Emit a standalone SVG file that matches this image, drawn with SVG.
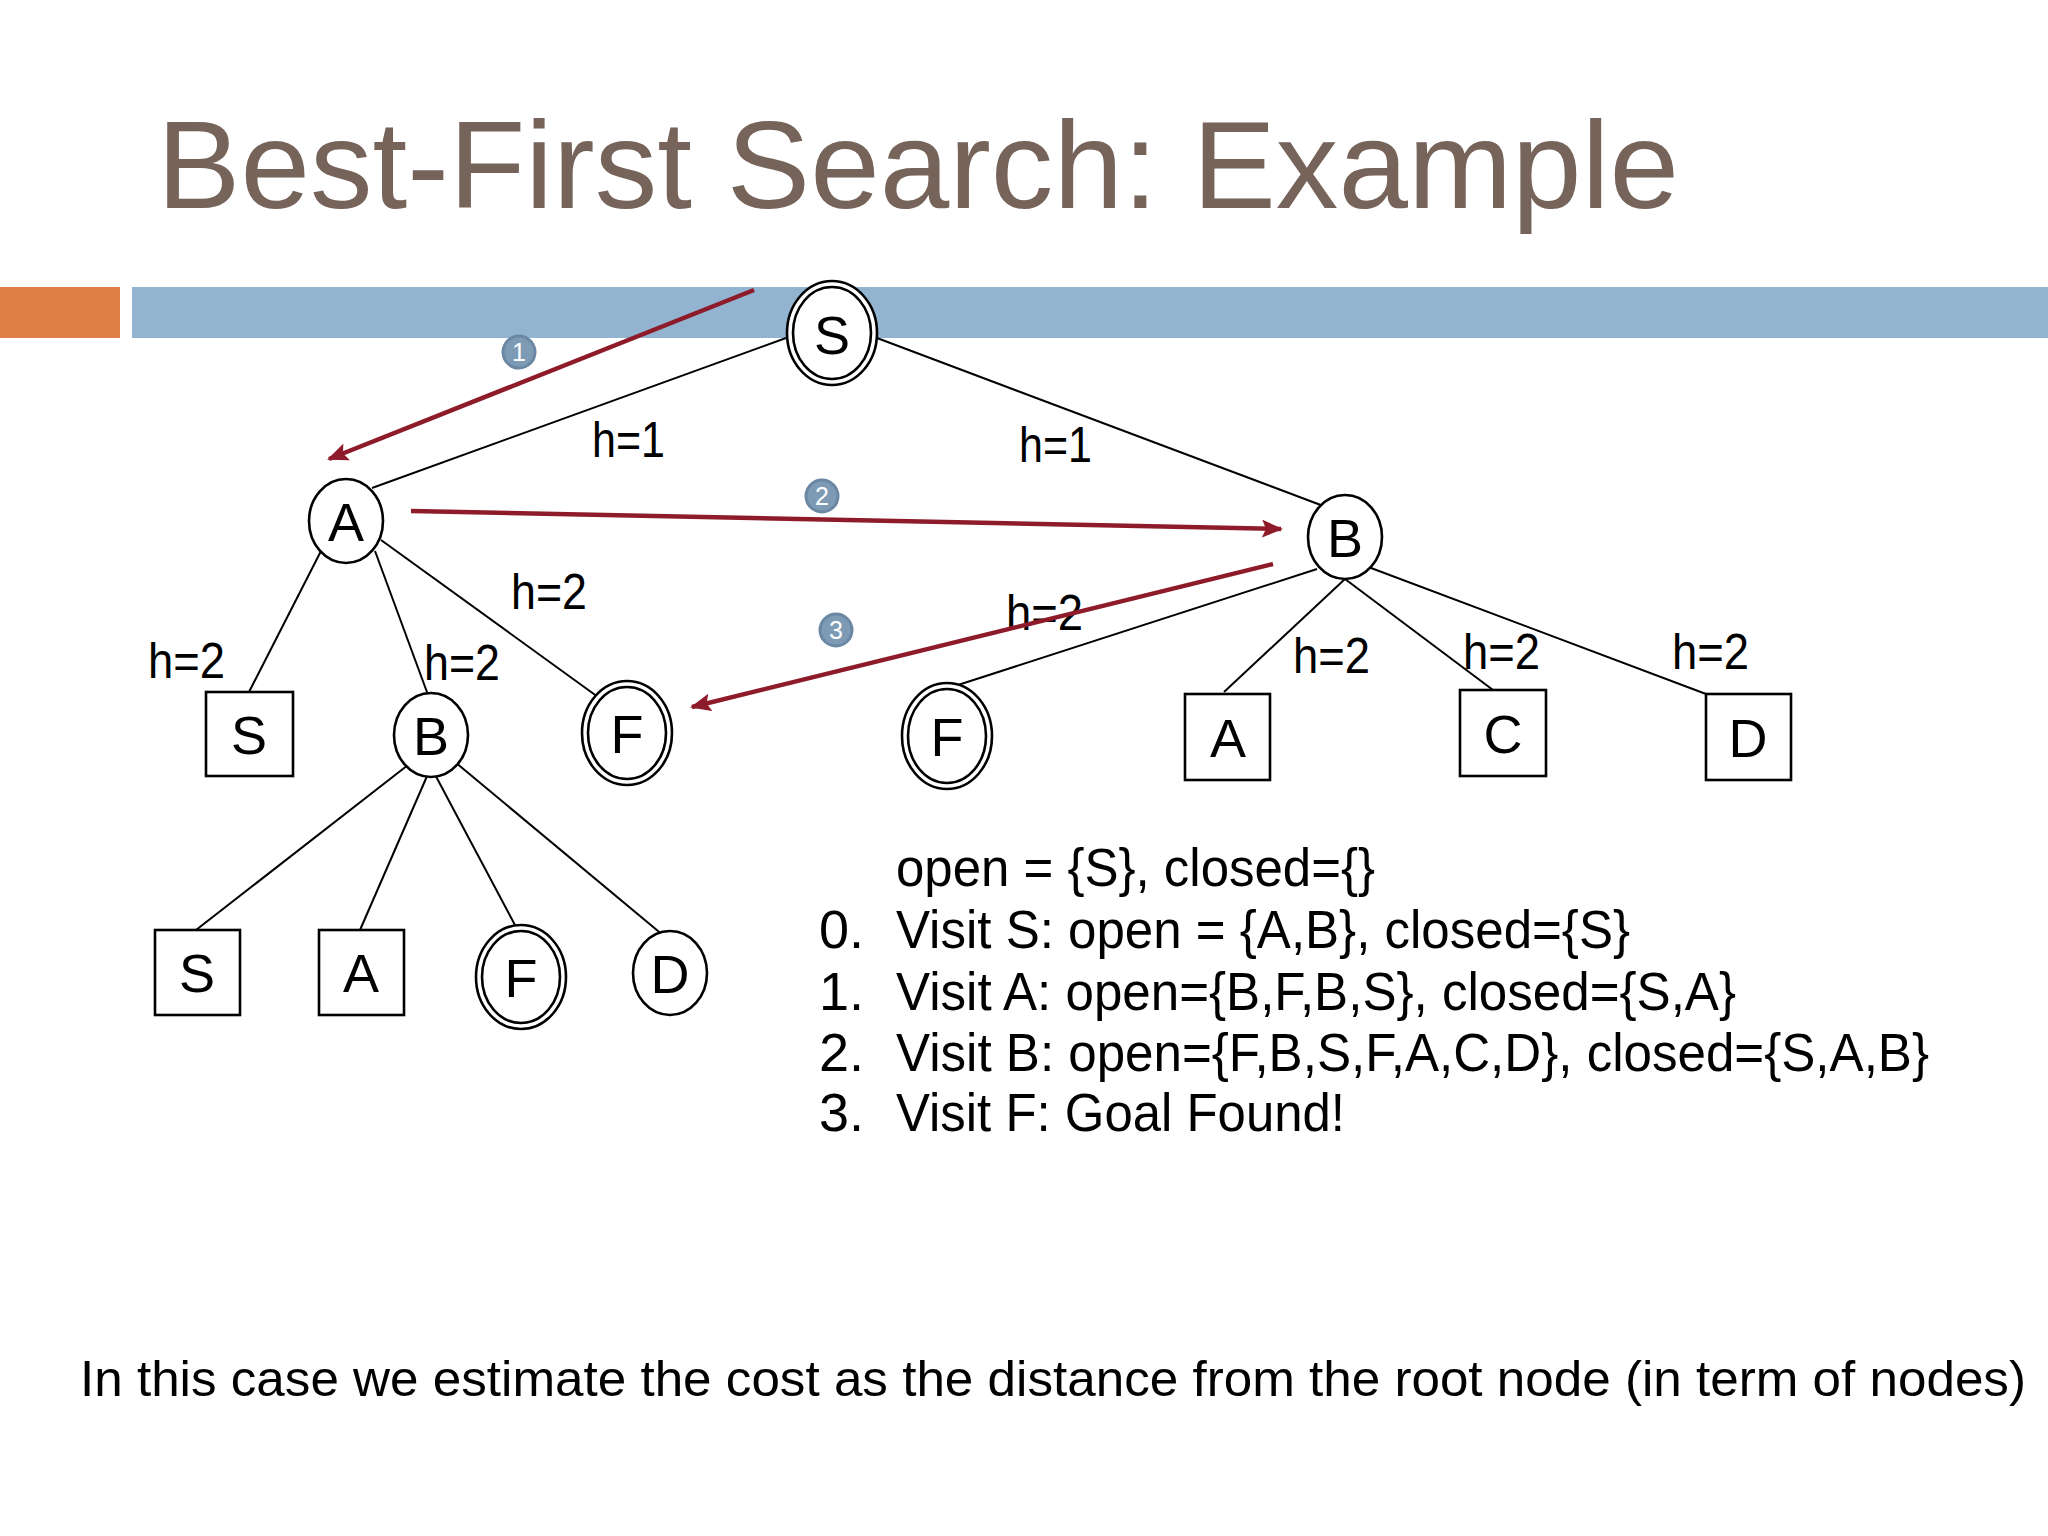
<svg xmlns="http://www.w3.org/2000/svg" width="2048" height="1536" viewBox="0 0 2048 1536">
<defs>
<style>
.edge{stroke:#000;stroke-width:2;fill:none}
.nd{fill:#fff;stroke:#000;stroke-width:2.6}
.lbl{font-family:"Liberation Sans",Arial,sans-serif;font-size:54px;fill:#000;text-anchor:middle}
.h{font-family:"Liberation Sans",Arial,sans-serif;font-size:50px;fill:#000}
.txt{font-family:"Liberation Sans",Arial,sans-serif;font-size:54px;fill:#000}
.red{stroke:#8E1B2A;stroke-width:4.5;fill:none}
.badge{fill:#7E9BB6;stroke:#6A87A3;stroke-width:3}
.bn{font-family:"Liberation Sans",Arial,sans-serif;font-size:25px;fill:#fff;text-anchor:middle}
</style>
<marker id="ah" markerUnits="userSpaceOnUse" markerWidth="22" markerHeight="18" refX="19" refY="9" orient="auto">
<path d="M0,0 L21,9 L0,18 L4,9 z" fill="#8E1B2A"/>
</marker>
</defs>
<rect width="2048" height="1536" fill="#fff"/>
<rect x="0" y="287" width="120" height="51" fill="#E07F45"/>
<rect x="132" y="287" width="1916" height="51" fill="#93B4D0"/>
<text x="157" y="208" font-family="'Liberation Sans',Arial,sans-serif" font-size="125" fill="#76645A" textLength="1522" lengthAdjust="spacingAndGlyphs">Best-First Search: Example</text>

<g id="connectors">
<line class="edge" x1="786" y1="338" x2="372" y2="488"/>
<line class="edge" x1="877" y1="338" x2="1326" y2="507"/>
<line class="edge" x1="321" y1="551" x2="249" y2="692"/>
<line class="edge" x1="375" y1="551" x2="431" y2="703"/>
<line class="edge" x1="381" y1="540" x2="598" y2="697"/>
<line class="edge" x1="1317" y1="569" x2="958" y2="685"/>
<line class="edge" x1="1345" y1="579" x2="1224" y2="692"/>
<line class="edge" x1="1345" y1="579" x2="1493" y2="690"/>
<line class="edge" x1="1371" y1="568" x2="1706" y2="694"/>
<line class="edge" x1="408" y1="765" x2="196" y2="930"/>
<line class="edge" x1="431" y1="767" x2="360" y2="930"/>
<line class="edge" x1="431" y1="767" x2="516" y2="927"/>
<line class="edge" x1="455" y1="762" x2="670" y2="941"/>
</g>

<g id="node-S-root"><ellipse class="nd" cx="832" cy="333" rx="45" ry="52"/><ellipse class="nd" cx="832" cy="333" rx="39" ry="46"/><text class="lbl" x="832" y="354">S</text></g>
<g id="node-A"><ellipse class="nd" cx="346" cy="521" rx="37" ry="42"/><text class="lbl" x="346" y="541">A</text></g>
<g id="node-B"><ellipse class="nd" cx="1345" cy="537" rx="37" ry="42"/><text class="lbl" x="1345" y="557">B</text></g>
<g id="node-A-S"><rect class="nd" x="206" y="692" width="87" height="84"/><text class="lbl" x="249" y="754">S</text></g>
<g id="node-A-B"><ellipse class="nd" cx="431" cy="735" rx="37" ry="42"/><text class="lbl" x="431" y="755">B</text></g>
<g id="node-A-F"><ellipse class="nd" cx="627" cy="733" rx="45" ry="52"/><ellipse class="nd" cx="627" cy="733" rx="39" ry="46"/><text class="lbl" x="627" y="753">F</text></g>
<g id="node-B-F"><ellipse class="nd" cx="947" cy="736" rx="45" ry="53"/><ellipse class="nd" cx="947" cy="736" rx="39" ry="47"/><text class="lbl" x="947" y="756">F</text></g>
<g id="node-B-A"><rect class="nd" x="1185" y="694" width="85" height="86"/><text class="lbl" x="1228" y="757">A</text></g>
<g id="node-B-C"><rect class="nd" x="1460" y="690" width="86" height="86"/><text class="lbl" x="1503" y="753">C</text></g>
<g id="node-B-D"><rect class="nd" x="1706" y="694" width="85" height="86"/><text class="lbl" x="1748" y="757">D</text></g>
<g id="node-AB-S"><rect class="nd" x="155" y="930" width="85" height="85"/><text class="lbl" x="197" y="992">S</text></g>
<g id="node-AB-A"><rect class="nd" x="319" y="930" width="85" height="85"/><text class="lbl" x="361" y="992">A</text></g>
<g id="node-AB-F"><ellipse class="nd" cx="521" cy="977" rx="45" ry="52"/><ellipse class="nd" cx="521" cy="977" rx="39" ry="46"/><text class="lbl" x="521" y="997">F</text></g>
<g id="node-AB-D"><ellipse class="nd" cx="670" cy="973" rx="37" ry="42"/><text class="lbl" x="670" y="993">D</text></g>

<g id="edge-labels">
<text class="h" x="592" y="457" textLength="73" lengthAdjust="spacingAndGlyphs">h=1</text>
<text class="h" x="1019" y="462" textLength="73" lengthAdjust="spacingAndGlyphs">h=1</text>
<text class="h" x="511" y="609" textLength="76" lengthAdjust="spacingAndGlyphs">h=2</text>
<text class="h" x="148" y="678" textLength="77" lengthAdjust="spacingAndGlyphs">h=2</text>
<text class="h" x="424" y="680" textLength="76" lengthAdjust="spacingAndGlyphs">h=2</text>
<text class="h" x="1006" y="630" textLength="77" lengthAdjust="spacingAndGlyphs">h=2</text>
<text class="h" x="1293" y="673" textLength="77" lengthAdjust="spacingAndGlyphs">h=2</text>
<text class="h" x="1463" y="669" textLength="77" lengthAdjust="spacingAndGlyphs">h=2</text>
<text class="h" x="1672" y="669" textLength="77" lengthAdjust="spacingAndGlyphs">h=2</text>
</g>

<g id="search-arrows">
<line class="red" x1="754" y1="290" x2="329" y2="459" marker-end="url(#ah)"/>
<line class="red" x1="411" y1="511" x2="1281" y2="529" marker-end="url(#ah)"/>
<line class="red" x1="1273" y1="564" x2="692" y2="707" marker-end="url(#ah)"/>
<circle class="badge" cx="519" cy="352" r="16"/><text class="bn" x="519" y="361">1</text>
<circle class="badge" cx="822" cy="496" r="16"/><text class="bn" x="822" y="505">2</text>
<circle class="badge" cx="836" cy="630" r="16"/><text class="bn" x="836" y="639">3</text>
</g>

<g id="steps">
<text class="txt" x="896" y="886" textLength="479" lengthAdjust="spacingAndGlyphs">open = {S}, closed={}</text>
<text class="txt" x="819" y="948">0.</text>
<text class="txt" x="896" y="948" textLength="734" lengthAdjust="spacingAndGlyphs">Visit S: open = {A,B}, closed={S}</text>
<text class="txt" x="819" y="1010">1.</text>
<text class="txt" x="896" y="1010" textLength="840" lengthAdjust="spacingAndGlyphs">Visit A: open={B,F,B,S}, closed={S,A}</text>
<text class="txt" x="819" y="1071">2.</text>
<text class="txt" x="896" y="1071" textLength="1033" lengthAdjust="spacingAndGlyphs">Visit B: open={F,B,S,F,A,C,D}, closed={S,A,B}</text>
<text class="txt" x="819" y="1131">3.</text>
<text class="txt" x="896" y="1131" textLength="449" lengthAdjust="spacingAndGlyphs">Visit F: Goal Found!</text>
</g>

<text x="80" y="1396" font-family="'Liberation Sans',Arial,sans-serif" font-size="50" fill="#000" textLength="1946" lengthAdjust="spacingAndGlyphs">In this case we estimate the cost as the distance from the root node (in term of nodes)</text>
</svg>
